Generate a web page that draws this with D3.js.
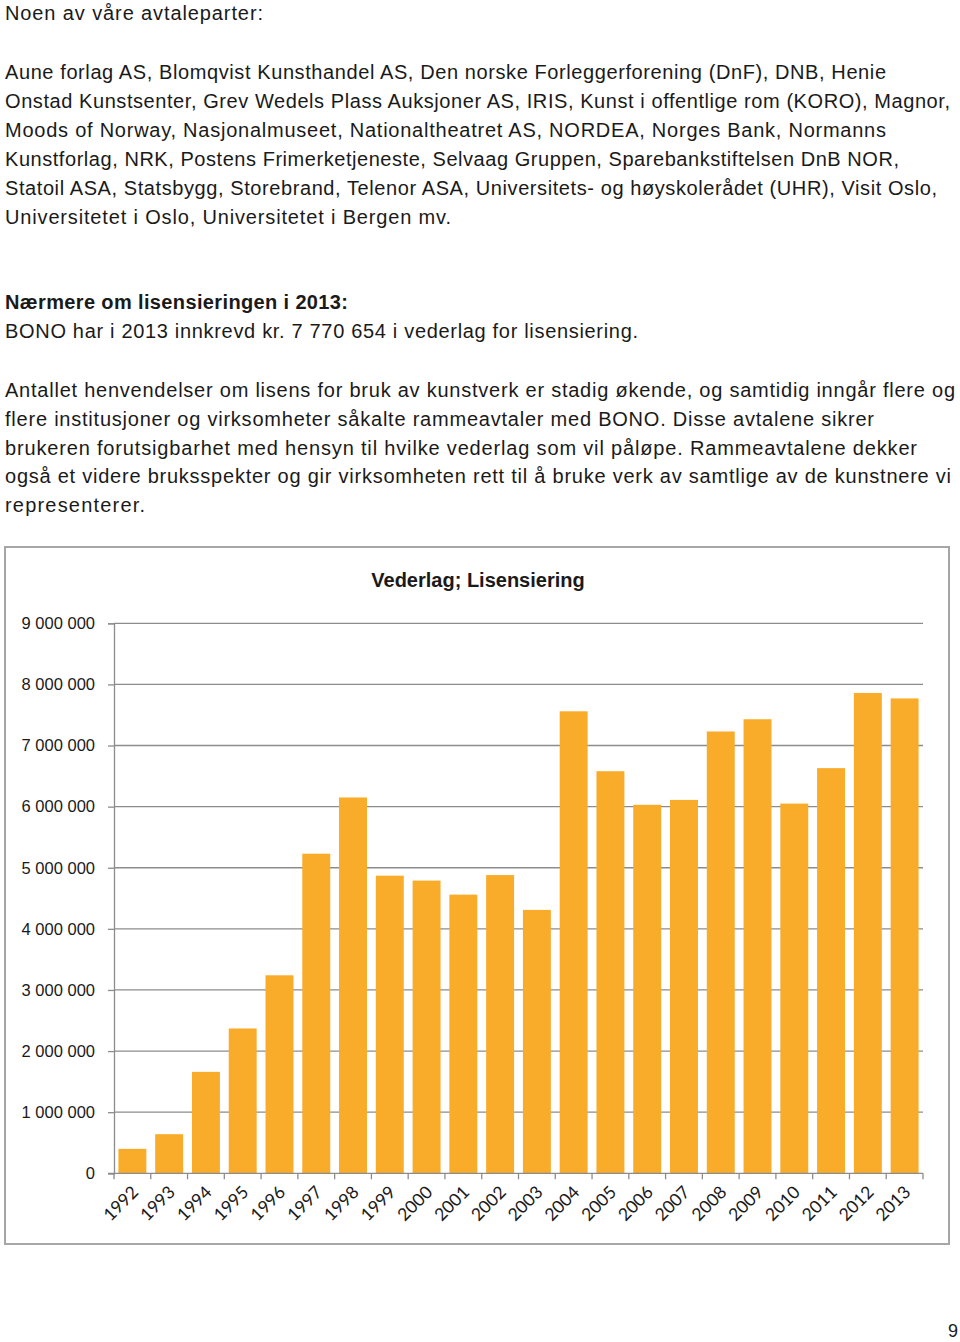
<!DOCTYPE html>
<html>
<head>
<meta charset="utf-8">
<script src="https://cdn.jsdelivr.net/npm/d3@7"></script>
<style>
  body { margin: 0; background: #fff; }
  svg { display: block; }
</style>
</head>
<body>
<div id="chart"></div>
<script>
// chart data
const years = ["1992","1993","1994","1995","1996","1997","1998","1999","2000","2001","2002",
               "2003","2004","2005","2006","2007","2008","2009","2010","2011","2012","2013"];
const vederlag = [400000, 640000, 1660000, 2370000, 3240000, 5230000, 6150000, 4870000, 4790000,
                  4560000, 4880000, 4310000, 7560000, 6580000, 6030000, 6110000, 7230000, 7430000,
                  6050000, 6630000, 7860000, 7770654];
const yTicks = [0, 1000000, 2000000, 3000000, 4000000, 5000000, 6000000, 7000000, 8000000, 9000000];
const chartTitle = "Vederlag; Lisensiering";

// page text, one entry per printed line
const introLines = [
  "Noen av våre avtaleparter:"
];
const partnerLines = [
  "Aune forlag AS, Blomqvist Kunsthandel AS, Den norske Forleggerforening (DnF), DNB, Henie",
  "Onstad Kunstsenter, Grev Wedels Plass Auksjoner AS, IRIS, Kunst i offentlige rom (KORO), Magnor,",
  "Moods of Norway, Nasjonalmuseet, Nationaltheatret AS, NORDEA, Norges Bank, Normanns",
  "Kunstforlag, NRK, Postens Frimerketjeneste, Selvaag Gruppen, Sparebankstiftelsen DnB NOR,",
  "Statoil ASA, Statsbygg, Storebrand, Telenor ASA, Universitets- og høyskolerådet (UHR), Visit Oslo,",
  "Universitetet i Oslo, Universitetet i Bergen mv."
];
const headingLine = "Nærmere om lisensieringen i 2013:";
const bonoLine = "BONO har i 2013 innkrevd kr. 7 770 654 i vederlag for lisensiering.";
const paraLines = [
  "Antallet henvendelser om lisens for bruk av kunstverk er stadig økende, og samtidig inngår flere og",
  "flere institusjoner og virksomheter såkalte rammeavtaler med BONO. Disse avtalene sikrer",
  "brukeren forutsigbarhet med hensyn til hvilke vederlag som vil påløpe. Rammeavtalene dekker",
  "også et videre bruksspekter og gir virksomheten rett til å bruke verk av samtlige av de kunstnere vi",
  "representerer."
];
const pageNumber = "9";

const width = 960, height = 1342;
const font = "'Liberation Sans', Arial, sans-serif";

const svg = d3.select("#chart").append("svg")
    .attr("width", width)
    .attr("height", height);

svg.append("rect").attr("width", width).attr("height", height).attr("fill", "#fff");

// text block helper: lines with a fixed line step, stretched to their printed width
function textBlock(lines, x, y0, step, widths, weight) {
  svg.append("g").selectAll("text")
    .data(lines)
    .join("text")
    .attr("x", x)
    .attr("y", (d, i) => y0 + i * step)
    .attr("font-family", font)
    .attr("font-size", 20)
    .attr("font-weight", weight || "normal")
    .attr("fill", "#1a1a1a")
    .attr("textLength", (d, i) => widths ? widths[i] : null)
    .attr("lengthAdjust", "spacing")
    .text(d => d);
}

textBlock(introLines, 5, 20, 29, [258]);
textBlock(partnerLines, 5, 79, 29, [881, 945, 881, 894, 932, 446]);
textBlock([headingLine], 5, 309, 29, [343], "bold");
textBlock([bonoLine], 5, 338, 29, [633]);
textBlock(paraLines, 5, 397, 28.8, [950, 869, 912, 946, 140]);

svg.append("text")
    .attr("x", 953).attr("y", 1337)
    .attr("text-anchor", "middle")
    .attr("font-family", font)
    .attr("font-size", 18)
    .attr("fill", "#1a1a1a")
    .text(pageNumber);

// chart frame
svg.append("rect")
    .attr("x", 5).attr("y", 547)
    .attr("width", 944).attr("height", 697)
    .attr("fill", "#fff")
    .attr("stroke", "#a6a6a6")
    .attr("stroke-width", 2);

svg.append("text")
    .attr("x", 478).attr("y", 587)
    .attr("text-anchor", "middle")
    .attr("font-family", font)
    .attr("font-size", 20)
    .attr("font-weight", "bold")
    .attr("fill", "#1a1a1a")
    .text(chartTitle);

// scales
const plot = {left: 114, right: 923, top: 623.3, bottom: 1173.3};

const xScale = d3.scaleBand()
    .domain(years)
    .range([plot.left, plot.right])
    .paddingInner(0.24)
    .paddingOuter(0.12);

const yScale = d3.scaleLinear()
    .domain([0, 9000000])
    .range([plot.bottom, plot.top]);

const gridColor = "#8c8c8c";

// gridlines
svg.append("g").selectAll("line")
    .data(yTicks.filter(d => d > 0))
    .join("line")
    .attr("x1", plot.left).attr("x2", plot.right)
    .attr("y1", d => yScale(d)).attr("y2", d => yScale(d))
    .attr("stroke", gridColor)
    .attr("stroke-width", 1.3);

// y axis
const yAxis = svg.append("g")
    .attr("transform", `translate(${plot.left},0)`)
    .call(d3.axisLeft(yScale)
      .tickValues(yTicks)
      .tickSize(6)
      .tickPadding(13)
      .tickFormat(d => d3.format(",")(d).replace(/,/g, " ")));
yAxis.select(".domain").attr("stroke", gridColor).attr("stroke-width", 1.3);
yAxis.selectAll(".tick line").attr("stroke", gridColor).attr("stroke-width", 1.3);
yAxis.selectAll(".tick text")
    .attr("font-family", font)
    .attr("font-size", 16.5)
    .attr("fill", "#1a1a1a");

// bars
svg.append("g").selectAll("rect")
    .data(years.map((y, i) => ({year: y, value: vederlag[i]})))
    .join("rect")
    .attr("x", d => xScale(d.year))
    .attr("y", d => yScale(d.value))
    .attr("width", xScale.bandwidth())
    .attr("height", d => yScale(0) - yScale(d.value))
    .attr("fill", "#f9ac2a");

// x axis line with ticks on the category boundaries
const xAxis = svg.append("g");
xAxis.append("line")
    .attr("x1", plot.left - 6).attr("x2", plot.right)
    .attr("y1", yScale(0)).attr("y2", yScale(0))
    .attr("stroke", gridColor).attr("stroke-width", 1.3);

const boundaries = years.map(y => xScale(y) - xScale.step() * xScale.paddingInner() / 2)
    .concat([plot.right]);
xAxis.selectAll("line.tick")
    .data(boundaries)
    .join("line")
    .attr("class", "tick")
    .attr("x1", d => d).attr("x2", d => d)
    .attr("y1", yScale(0)).attr("y2", yScale(0) + 6)
    .attr("stroke", gridColor).attr("stroke-width", 1.3);

xAxis.selectAll("text")
    .data(years)
    .join("text")
    .attr("transform", d => `translate(${xScale(d) + xScale.bandwidth() / 2 + 7},${yScale(0) + 20}) rotate(-45)`)
    .attr("text-anchor", "end")
    .attr("font-family", "Lato, 'Open Sans', sans-serif")
    .attr("font-size", 17.5)
    .attr("fill", "#1a1a1a")
    .text(d => d);
</script>
</body>
</html>
